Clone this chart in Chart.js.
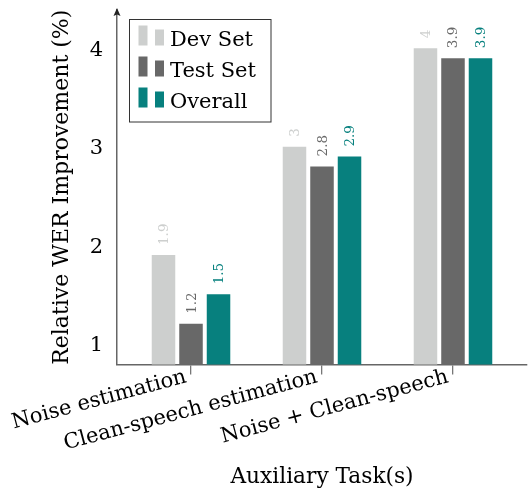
<!DOCTYPE html>
<html><head><meta charset="utf-8">
<script src="https://cdn.jsdelivr.net/npm/chart.js@4.4.0/dist/chart.umd.min.js"></script>
<style>html,body{margin:0;padding:0;background:#fff}#wrap{width:529px;height:489px}</style>
</head><body><div id="wrap"><canvas id="c" width="529" height="489"></canvas></div>
<script>
const categories = ['Noise estimation', 'Clean-speech estimation', 'Noise + Clean-speech'];
const seriesNames = ['Dev Set', 'Test Set', 'Overall'];
const devSet = [1.9, 3, 4];
const testSet = [1.2, 2.8, 3.9];
const overall = [1.5, 2.9, 3.9];
const yTickValues = [1, 2, 3, 4];
const seriesColors = ['#cdcfce', '#686868', '#07807e'];
const xTitle = 'Auxiliary Task(s)';
const yTitle = 'Relative WER Improvement (%)';

const FONT = '"DejaVu Serif", serif';
const seriesValues = [devSet, testSet, overall];

const datasets = seriesNames.map((name, i) => ({
  label: name,
  data: seriesValues[i].map((v, j) => ({ x: j, y: v })),
  backgroundColor: seriesColors[i],
  borderWidth: 0,
  categoryPercentage: 0.63,
  barPercentage: 0.855
}));

const valueLabels = {
  id: 'valueLabels',
  afterDatasetsDraw(chart) {
    const ctx = chart.ctx;
    chart.data.datasets.forEach((ds, i) => {
      const meta = chart.getDatasetMeta(i);
      meta.data.forEach((bar, j) => {
        ctx.save();
        ctx.translate(bar.x + 1, bar.y - 10);
        ctx.rotate(-Math.PI / 2);
        ctx.textAlign = 'left';
        ctx.textBaseline = 'middle';
        ctx.fillStyle = seriesColors[i];
        ctx.font = '13.5px ' + FONT;
        ctx.fillText(String(ds.data[j].y), 0, 0);
        ctx.restore();
      });
    });
  }
};

const customLegend = {
  id: 'customLegend',
  afterDraw(chart) {
    const ctx = chart.ctx;
    ctx.save();
    ctx.strokeStyle = '#333';
    ctx.lineWidth = 1;
    ctx.fillStyle = '#fff';
    ctx.fillRect(129.5, 19.5, 141.5, 102.5);
    ctx.strokeRect(129.5, 19.5, 141.5, 102.5);
    chart.data.datasets.forEach((ds, k) => {
      const base = 45.5 + k * 31;
      ctx.fillStyle = ds.backgroundColor;
      ctx.fillRect(138.5, base - 20, 9, 20);
      ctx.fillRect(155, base - 16, 9, 16);
      ctx.fillStyle = '#000';
      ctx.font = '21px ' + FONT;
      ctx.textAlign = 'left';
      ctx.textBaseline = 'alphabetic';
      ctx.fillText(ds.label, 170, base);
    });
    const x = chart.chartArea.left;
    ctx.fillStyle = '#222';
    ctx.beginPath();
    ctx.moveTo(x, 8);
    ctx.lineTo(x - 3.5, 16);
    ctx.lineTo(x, 14.5);
    ctx.lineTo(x + 3.5, 16);
    ctx.closePath();
    ctx.fill();
    ctx.restore();
  }
};

new Chart(document.getElementById('c'), {
  type: 'bar',
  data: { datasets },
  plugins: [valueLabels, customLegend],
  options: {
    responsive: false,
    animation: false,
    devicePixelRatio: 1,
    layout: { padding: { top: 10, right: 2, left: 0, bottom: 0 } },
    plugins: { legend: { display: false }, tooltip: { enabled: false } },
    scales: {
      x: {
        type: 'linear',
        offset: false,
        min: -0.565,
        max: 2.565,
        afterBuildTicks: s => { s.ticks = categories.map((_, i) => ({ value: i })); },
        afterFit: s => { s.height = 124.5; s.paddingLeft = 0; s.paddingRight = 0; },
        ticks: {
          callback: v => categories[v],
          autoSkip: false,
          minRotation: 15,
          maxRotation: 15,
          padding: -10,
          labelOffset: -5,
          color: '#000',
          font: { family: FONT, size: 21 }
        },
        grid: { offset: false, drawOnChartArea: false, drawTicks: true, tickLength: 10, color: '#777', lineWidth: 1.3 },
        border: { display: true, color: '#666', width: 1.5 },
        title: { display: true, text: xTitle, color: '#000', font: { family: FONT, size: 21.7 }, padding: { top: 0, bottom: -1 } }
      },
      y: {
        min: 0.787,
        max: 4.39,
        afterBuildTicks: s => { s.ticks = yTickValues.map(v => ({ value: v })); },
        afterFit: s => { s.width = 117; s.paddingTop = 0; s.paddingBottom = 0; },
        ticks: { padding: 14, labelOffset: 2, color: '#000', font: { family: FONT, size: 21 } },
        grid: { drawOnChartArea: false, drawTicks: false },
        border: { display: true, color: '#666', width: 1.5 },
        title: { display: true, text: yTitle, color: '#000', font: { family: FONT, size: 22 }, padding: { top: 49, bottom: 0 } }
      }
    }
  }
});
</script></body></html>
